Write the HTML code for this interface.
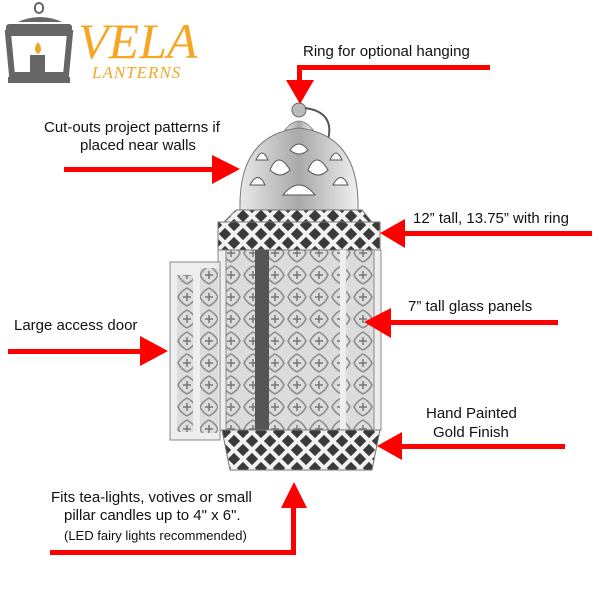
<!DOCTYPE html>
<html><head><meta charset="utf-8"><style>
html,body{margin:0;padding:0;background:#fff;}
svg{display:block}
text{font-family:"Liberation Sans",sans-serif;fill:#111;}
</style></head><body>
<svg width="600" height="600" viewBox="0 0 600 600" xmlns="http://www.w3.org/2000/svg">
<defs>
<linearGradient id="met" x1="0" x2="1">
<stop offset="0" stop-color="#e8e8e8"/><stop offset="0.5" stop-color="#a9a9a9"/><stop offset="1" stop-color="#f0f0f0"/>
</linearGradient>
<pattern id="glass" width="22" height="22" patternUnits="userSpaceOnUse">
<rect width="22" height="22" fill="#dcdcdc"/>
<path d="M11 2 Q17 5 20 11 Q17 17 11 20 Q5 17 2 11 Q5 5 11 2Z" fill="none" stroke="#8a8a8a" stroke-width="1.5"/>
<path d="M11 7V15M7 11H15" stroke="#777" stroke-width="1.5"/>
</pattern>
<pattern id="lat" width="18" height="18" patternUnits="userSpaceOnUse">
<rect width="18" height="18" fill="#3a3a3a"/>
<path d="M0 0L18 18M18 0L0 18" stroke="#f2f2f2" stroke-width="4"/>
</pattern>
</defs>
<!-- logo -->
<rect x="35" y="3" width="8" height="10" rx="4" fill="none" stroke="#666" stroke-width="2"/>
<path d="M18 22 Q40 12 62 22 Z" fill="#666"/>
<rect x="6" y="24" width="66" height="8" rx="3" fill="#666"/>
<path d="M8 33 H70 L66 75 H12 Z" fill="none" stroke="#666" stroke-width="6"/>
<rect x="30" y="55" width="15" height="18" fill="#666"/>
<path d="M38 42 Q44 50 38 54 Q32 50 38 42Z" fill="#f3a21e"/>
<rect x="8" y="77" width="62" height="6" fill="#666"/>
<text x="78" y="58" style="font-family:'Liberation Serif',serif;font-style:italic;font-size:50px;fill:#f6a623">VELA</text>
<text x="92" y="78" style="font-family:'Liberation Serif',serif;font-style:italic;font-size:17px;fill:#f6a623;letter-spacing:1px">LANTERNS</text>

<!-- lantern -->
<circle cx="299" cy="110" r="7" fill="#bbb" stroke="#666"/>
<path d="M305 108 Q335 112 328 140" fill="none" stroke="#555" stroke-width="2"/>
<path d="M285 130 Q299 112 313 130 Z" fill="url(#met)" stroke="#888"/>
<path d="M240 210 Q238 135 299 128 Q360 135 358 210 Z" fill="url(#met)" stroke="#777"/>
<g fill="#fff" stroke="#555">
<path d="M270 170 q8 -20 20 0 q-10 10 -20 0z"/><path d="M308 170 q8 -20 20 0 q-10 10 -20 0z"/>
<path d="M290 150 q9 -12 18 0 q-9 8 -18 0z"/><path d="M250 185 q8 -15 15 0z"/><path d="M333 185 q8 -15 15 0z"/>
<path d="M283 195 q16 -20 32 0z"/><path d="M256 160 q6 -14 12 0z"/><path d="M330 160 q6 -14 12 0z"/>
</g>
<path d="M236 210 H362 L372 222 H224 Z" fill="url(#lat)" stroke="#777"/>
<rect x="218" y="222" width="162" height="28" fill="url(#lat)" stroke="#777"/>
<rect x="225" y="250" width="150" height="180" fill="url(#glass)" stroke="#777"/>
<rect x="255" y="250" width="14" height="180" fill="#555"/>
<rect x="340" y="250" width="6" height="180" fill="#eee"/>
<rect x="218" y="250" width="8" height="180" fill="#eee" stroke="#888"/>
<rect x="374" y="250" width="7" height="180" fill="#eee" stroke="#888"/>
<path d="M222 430 H380 L372 470 H230 Z" fill="url(#lat)" stroke="#777"/>
<rect x="170" y="262" width="50" height="178" fill="#eee" stroke="#888"/>
<rect x="177" y="275" width="16" height="157" fill="url(#glass)"/>
<rect x="200" y="268" width="18" height="165" fill="url(#glass)"/>

<!-- text -->
<text x="303" y="56" font-size="15">Ring for optional hanging</text>
<text x="44" y="132" font-size="15">Cut-outs project patterns if</text>
<text x="80" y="150" font-size="15">placed near walls</text>
<text x="413" y="223" font-size="15">12” tall, 13.75” with ring</text>
<text x="408" y="311" font-size="15">7” tall glass panels</text>
<text x="14" y="330" font-size="15">Large access door</text>
<text x="426" y="418" font-size="15">Hand Painted</text>
<text x="433" y="437" font-size="15">Gold Finish</text>
<text x="51" y="502" font-size="15">Fits tea-lights, votives or small</text>
<text x="64" y="520" font-size="15">pillar candles up to 4" x 6".</text>
<text x="64" y="540" font-size="13">(LED fairy lights recommended)</text>

<!-- arrows -->
<g fill="#f00">
<rect x="297" y="65" width="193" height="5"/><rect x="297" y="65" width="5" height="16"/>
<polygon points="286,80 314,80 300,104"/>
<rect x="64" y="167" width="152" height="5"/><polygon points="212,155 212,184 240,169"/>
<rect x="402" y="231" width="190" height="5"/><polygon points="405,219 405,248 380,233"/>
<rect x="388" y="320" width="170" height="5"/><polygon points="391,308 391,338 364,322"/>
<rect x="8" y="349" width="135" height="5"/><polygon points="140,336 140,366 168,351"/>
<rect x="400" y="444" width="165" height="5"/><polygon points="402,432 402,460 377,446"/>
<polygon points="281,508 307,508 294,482"/><rect x="291" y="505" width="5" height="50"/>
<rect x="50" y="550" width="246" height="5"/>
</g>
</svg>
</body></html>
